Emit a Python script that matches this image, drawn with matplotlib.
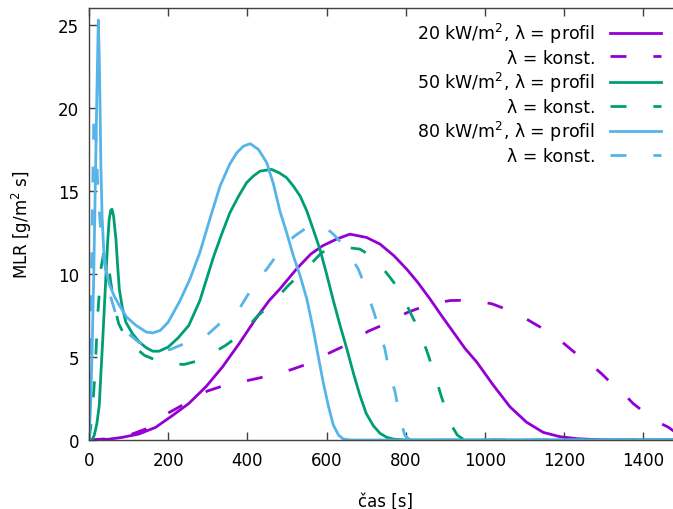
import matplotlib
matplotlib.use("Agg")
import matplotlib.pyplot as plt

# ---- data ----
t_20_prof = [0, 17, 50, 84, 126, 168, 210, 252, 295, 337, 379, 421, 455, 482, 524, 560, 590, 625, 659,
             701, 735, 770, 802, 830, 861, 890, 920, 950, 979, 1021, 1063, 1105, 1147, 1189, 1232, 1280, 1320, 1500]
y_20_prof = [0, 0, 0.05, 0.16, 0.36, 0.76, 1.46, 2.2, 3.2, 4.4, 5.8, 7.3, 8.4, 9.1, 10.3, 11.2, 11.7, 12.1, 12.4,
             12.2, 11.8, 11.1, 10.3, 9.5, 8.5, 7.5, 6.5, 5.5, 4.7, 3.3, 2.0, 1.07, 0.46, 0.2, 0.08, 0.02, 0, 0]

t_20_konst = [0, 50, 80, 109, 143, 170, 202, 236, 270, 299, 337, 370, 404, 442, 475, 512, 548, 580, 610, 646,
              675, 705, 739, 770, 806, 840, 875, 912, 949, 985, 1018, 1057, 1090, 1118, 1154, 1185, 1210, 1240,
              1270, 1295, 1324, 1350, 1374, 1406, 1435, 1463, 1475, 1500]
y_20_konst = [0, 0.08, 0.2, 0.36, 0.66, 1.15, 1.65, 2.1, 2.55, 2.95, 3.25, 3.45, 3.6, 3.8, 4.0, 4.25, 4.55, 4.9,
              5.28, 5.68, 6.1, 6.55, 6.9, 7.3, 7.7, 8.0, 8.25, 8.4, 8.42, 8.35, 8.2, 7.85, 7.5, 7.1, 6.6, 6.1,
              5.6, 5.0, 4.5, 3.98, 3.3, 2.8, 2.2, 1.6, 1.1, 0.77, 0.56, 0.25]

t_50_prof = [0, 8, 13, 20, 26, 30, 34.6, 39, 43, 47, 51, 55, 58, 62, 68, 72, 76.5, 84, 93, 110, 127, 145, 161,
             177, 200, 225, 252, 280, 314, 335, 356, 378, 398, 415, 432, 461, 480, 499, 516, 533, 550, 566,
             583, 600, 617, 634, 651, 668, 684, 700, 718, 735, 752, 770, 800, 1500]
y_50_prof = [0, 0.05, 0.26, 1.0, 2.1, 4.0, 6.0, 8.1, 10.0, 11.9, 13.3, 13.85, 13.9, 13.5, 12.1, 10.6, 9.1, 8.0,
             7.1, 6.4, 5.9, 5.55, 5.35, 5.35, 5.6, 6.15, 6.9, 8.4, 11.0, 12.4, 13.7, 14.7, 15.5, 15.9, 16.2,
             16.3, 16.1, 15.8, 15.3, 14.7, 13.8, 12.7, 11.5, 10.0, 8.4, 6.9, 5.5, 4.0, 2.7, 1.6, 0.86, 0.4,
             0.16, 0.05, 0, 0]

t_50_konst = [0, 8, 15, 22, 30, 38, 45, 55, 65, 75, 90, 110, 140, 170, 200, 240, 280, 310, 345, 374, 400, 427,
              457, 480, 503, 529, 560, 588, 617, 650, 684, 718, 740, 760, 785, 815, 832, 845, 857, 869, 880,
              890, 903, 915, 930, 945, 960, 1500]
y_50_konst = [0, 1.5, 4.0, 7.5, 10.3, 11.4, 11.3, 9.5, 8.0, 7.0, 6.3, 5.7, 5.1, 4.8, 4.6, 4.55, 4.8, 5.2, 5.7,
              6.2, 6.8, 7.5, 8.1, 8.7, 9.3, 9.9, 10.6, 11.3, 11.55, 11.6, 11.5, 11.0, 10.4, 9.8, 9.0, 7.5,
              6.7, 5.9, 5.1, 4.2, 3.4, 2.6, 1.7, 0.9, 0.3, 0.05, 0, 0]

t_80_prof = [0, 4, 8, 12, 16, 20, 23.5, 26, 28, 30, 33, 37, 43, 51, 65, 77, 95, 119, 145, 161, 180, 200, 230,
             255, 280, 305, 331, 355, 373, 390, 407, 428, 449, 466, 482, 499, 516, 533, 550, 566, 580, 592,
             605, 617, 630, 642, 660, 1500]
y_80_prof = [0, 2, 5.5, 10, 15.5, 21, 25.3, 23, 20, 16.5, 13.5, 11.5, 10.2, 9.4, 8.6, 8.1, 7.4, 6.9, 6.5, 6.45,
             6.6, 7.1, 8.4, 9.7, 11.3, 13.3, 15.3, 16.6, 17.3, 17.7, 17.85, 17.5, 16.7, 15.4, 13.8, 12.5, 11.1,
             9.9, 8.5, 6.7, 4.9, 3.4, 2.0, 0.9, 0.3, 0.06, 0, 0]

t_80_konst = [0, 3, 6, 9, 12, 15, 18, 23, 30, 37, 45, 55, 70, 85, 100, 125, 150, 185, 205, 240, 270, 297, 325,
              350, 382, 400, 423, 449, 470, 491, 520, 550, 575, 600, 617, 640, 659, 680, 695, 705, 718, 735,
              747, 760, 773, 785, 798, 810, 830, 1500]
y_80_konst = [0, 4, 9, 14.5, 19.0, 19.8, 18, 14.8, 12.5, 11.0, 9.8, 8.6, 7.4, 6.8, 6.4, 5.9, 5.6, 5.4, 5.45,
              5.8, 6.05, 6.3, 6.9, 7.5, 8.0, 8.7, 9.6, 10.3, 11.0, 11.7, 12.3, 12.8, 13.0, 12.75, 12.4, 11.8,
              11.1, 10.3, 9.4, 8.7, 7.8, 6.5, 5.5, 3.9, 2.9, 1.3, 0.26, 0.02, 0, 0]

labels = ["20 kW/m$^2$, λ = profil", "λ = konst.",
          "50 kW/m$^2$, λ = profil", "λ = konst.",
          "80 kW/m$^2$, λ = profil", "λ = konst."]
colors = ["#9400D3", "#9400D3", "#009E73", "#009E73", "#56B4E9", "#56B4E9"]
xticks = [0, 200, 400, 600, 800, 1000, 1200, 1400]
yticks = [0, 5, 10, 15, 20, 25]

series = [(t_20_prof, y_20_prof), (t_20_konst, y_20_konst),
          (t_50_prof, y_50_prof), (t_50_konst, y_50_konst),
          (t_80_prof, y_80_prof), (t_80_konst, y_80_konst)]

plt.rcParams['font.family'] = ['DejaVu Sans']
plt.rcParams['mathtext.fontset'] = 'dejavusans'
FS = 12
LFS = 12.5

fig = plt.figure(figsize=(6.73, 5.10), dpi=100)
ax = fig.add_axes([89 / 673, 69 / 510, 594 / 673, 431.6 / 510])

lw = 2.0
dash = (0, (11.5 / lw, 19.4 / lw))
for i, ((t, y), lab, c) in enumerate(zip(series, labels, colors)):
    ls = '-' if i % 2 == 0 else dash
    ax.plot(t, y, color=c, lw=lw, linestyle=ls, label=lab, solid_joinstyle='round')

ax.set_xlim(0, 1500)
ax.set_ylim(0, 26)
ax.set_xticks(xticks)
ax.set_yticks(yticks)
ax.tick_params(direction='in', length=6, width=1, color='#404040', labelsize=FS,
               top=True, right=True, labelcolor='black')
ax.tick_params(axis='x', pad=8)
ax.tick_params(axis='y', pad=7)
for s in ax.spines.values():
    s.set_color('#404040')
    s.set_linewidth(1.0)

ax.set_xlabel("čas [s]", fontsize=FS)
ax.set_ylabel("MLR [g/m$^2$ s]", fontsize=FS)
ax.xaxis.set_label_coords(0.5, -0.12)
ax.yaxis.set_label_coords(-0.092, 0.5)

leg = ax.legend(loc='upper right', bbox_to_anchor=(661 / 673, 1 - 22 / 510),
                bbox_transform=fig.transFigure, frameon=False, markerfirst=False,
                fontsize=LFS, handlelength=2.95, handletextpad=0.85, labelspacing=0.2,
                borderpad=0, borderaxespad=0)

fig.savefig("out.png", dpi=100)
